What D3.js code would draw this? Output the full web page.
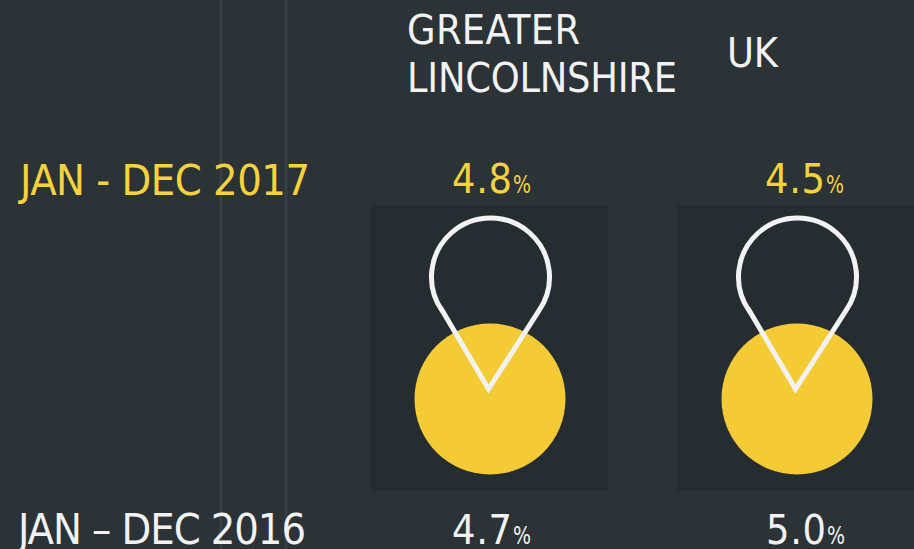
<!DOCTYPE html>
<html>
<head>
<meta charset="utf-8">
<script src="https://d3js.org/d3.v7.min.js"></script>
<style>
  html, body { margin: 0; padding: 0; background: #2b3336; overflow: hidden; }
  text { font-family: "DejaVu Sans", sans-serif; font-stretch: condensed; }
</style>
</head>
<body>
<div id="chart"></div>
<script>
const regions = ["GREATER LINCOLNSHIRE", "UK"];
const periods = ["JAN - DEC 2017", "JAN \u2013 DEC 2016"];
const values2017 = [4.8, 4.5];
const values2016 = [4.7, 5.0];

const width = 914, height = 549;
const yellow = "#f4cb35", labelYellow = "#f6d33c", white = "#f2f2f2";

const svg = d3.select("#chart").append("svg")
  .attr("width", width)
  .attr("height", height)
  .style("display", "block");

svg.append("rect").attr("width", width).attr("height", height).attr("fill", "#2b3336");

// soft edge, the original is an upscaled image
svg.append("defs").append("filter")
  .attr("id", "soft")
  .append("feGaussianBlur")
  .attr("stdDeviation", 0.7);

// faint vertical rules behind the text
svg.selectAll(".rule")
  .data([221, 286])
  .enter()
  .append("line")
  .attr("x1", d => d).attr("x2", d => d)
  .attr("y1", 0).attr("y2", height)
  .attr("stroke", "#344043")
  .attr("stroke-width", 3);

// column centres
const x = d3.scalePoint().domain(regions).range([490, 797]);

// header
const header = svg.append("g");
header.append("text")
  .attr("x", 407).attr("y", 44)
  .attr("font-size", 41).attr("fill", white)
  .attr("textLength", 173)
  .text("GREATER");
header.append("text")
  .attr("x", 407).attr("y", 92)
  .attr("font-size", 41).attr("fill", white)
  .attr("textLength", 270)
  .text("LINCOLNSHIRE");
header.append("text")
  .attr("x", 727).attr("y", 67)
  .attr("font-size", 41).attr("fill", white)
  .attr("textLength", 51)
  .text("UK");

// row labels
svg.append("text").attr("x", 20).attr("y", 195)
  .attr("font-size", 43).attr("fill", labelYellow)
  .attr("textLength", 290)
  .text(periods[0]);
svg.append("text").attr("x", 18).attr("y", 544)
  .attr("font-size", 43).attr("fill", white)
  .attr("textLength", 288)
  .text(periods[1]);

function valueLabel(v, left, y, color) {
  const t = svg.append("text")
    .attr("y", y)
    .attr("fill", color);
  t.append("tspan")
    .attr("x", left)
    .attr("font-size", 41)
    .attr("textLength", 60)
    .text(v.toFixed(1));
  t.append("tspan")
    .attr("x", left + 61)
    .attr("font-size", 25)
    .attr("textLength", 18)
    .attr("lengthAdjust", "spacingAndGlyphs")
    .text("%");
}

regions.forEach((r, i) => {
  valueLabel(values2017[i], x(r) - (i ? 32 : 38), 193, labelYellow);
  valueLabel(values2016[i], x(r) - (i ? 31 : 38), 544, white);
});

// pin outline, drawn around its own head centre
const pinR = 59;
const pinPath = d3.path();
pinPath.moveTo(-2, 112);
pinPath.lineTo(-48, 34);
pinPath.arc(0, 0, pinR, Math.PI - 0.617, 2 * Math.PI + 0.617);
pinPath.closePath();

const cell = svg.selectAll(".cell")
  .data(regions)
  .enter()
  .append("g")
  .attr("class", "cell")
  .attr("transform", d => "translate(" + x(d) + ",0)");

cell.append("rect")
  .attr("x", -120).attr("y", 205)
  .attr("width", 238).attr("height", 286)
  .attr("fill", "#262d30");

cell.append("circle")
  .attr("cx", 0).attr("cy", 399).attr("r", 75.5)
  .attr("fill", yellow)
  .attr("filter", "url(#soft)");

cell.append("path")
  .attr("d", pinPath.toString())
  .attr("transform", "translate(0.5,277)")
  .attr("fill", "none")
  .attr("stroke", white)
  .attr("stroke-width", 5)
  .attr("filter", "url(#soft)");
</script>
</body>
</html>
